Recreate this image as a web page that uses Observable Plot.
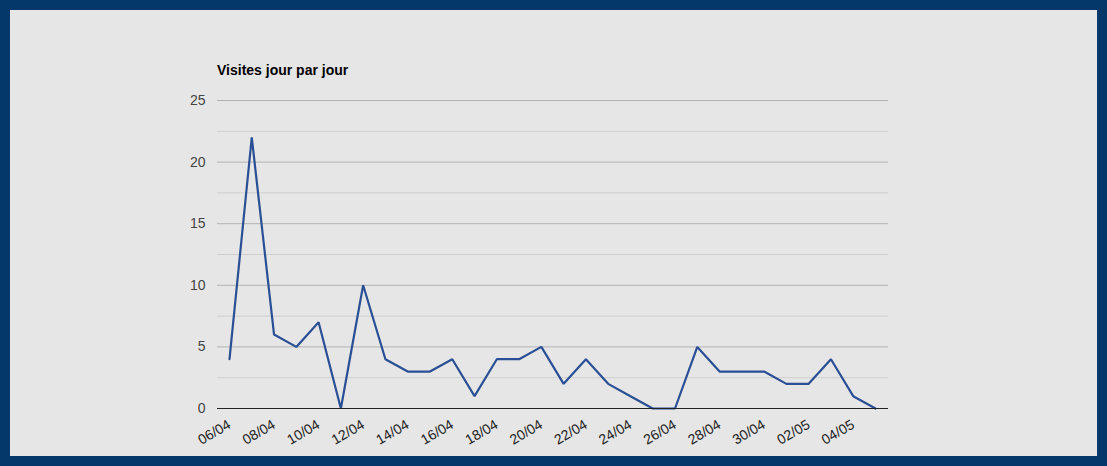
<!DOCTYPE html>
<html><head><meta charset="utf-8">
<script src="https://cdn.jsdelivr.net/npm/d3@7"></script>
<script src="https://cdn.jsdelivr.net/npm/@observablehq/plot@0.6"></script>
<style>
html,body{margin:0;padding:0;background:#04386b;width:1107px;height:466px;overflow:hidden}
#box{position:absolute;left:10px;top:10px;width:1087px;height:446px;background:#e6e6e6}
#title{position:absolute;left:207px;top:52px;font:bold 14px "Liberation Sans",Arial,sans-serif;color:#000}
#chart{position:absolute;left:0;top:0}
</style></head>
<body><div id="box"><div id="title">Visites jour par jour</div><div id="chart"></div></div>
<script>
const days = ["06/04","07/04","08/04","09/04","10/04","11/04","12/04","13/04","14/04","15/04","16/04","17/04","18/04","19/04","20/04","21/04","22/04","23/04","24/04","25/04","26/04","27/04","28/04","29/04","30/04","01/05","02/05","03/05","04/05","05/05"];
const visits = [4,22,6,5,7,0,10,4,3,3,4,1,4,4,5,2,4,2,1,0,0,5,3,3,3,2,2,4,1,0];
const yTicks = [0,5,10,15,20,25];
const yMinor = [2.5,7.5,12.5,17.5,22.5];
const xTickLabels = ["06/04","08/04","10/04","12/04","14/04","16/04","18/04","20/04","22/04","24/04","26/04","28/04","30/04","02/05","04/05"];

const data = days.map((d,i)=>({day:d, v:visits[i]}));
const chart = Plot.plot({
  width:1087, height:446,
  marginLeft:207, marginRight:209, marginTop:90, marginBottom:48,
  style:{background:"transparent", fontFamily:"'Liberation Sans', Arial, sans-serif", fontSize:"14px", color:"#444"},
  x:{type:"point", domain:days, padding:0, round:false, insetLeft:12, insetRight:13, label:null},
  y:{domain:[0,25], label:null},
  marks:[
    Plot.ruleY(yMinor,{stroke:"#cfcfcf", strokeWidth:1}),
    Plot.ruleY(yTicks.filter(t=>t>0),{stroke:"#b3b3b3", strokeWidth:1}),
    Plot.axisY({ticks:yTicks, tickSize:0, tickPadding:12, label:null, fill:"#444", fontSize:14}),
    Plot.axisX({ticks:xTickLabels, tickSize:0, tickPadding:15, tickRotate:-30, label:null, fill:"#222", fontSize:14}),
    Plot.line(data,{x:"day", y:"v", stroke:"#2b4f95", strokeWidth:2.2, strokeLinejoin:"miter"}),
    Plot.ruleY([0],{stroke:"#222", strokeWidth:1})
  ]
});
document.getElementById("chart").appendChild(chart);
</script></body></html>
